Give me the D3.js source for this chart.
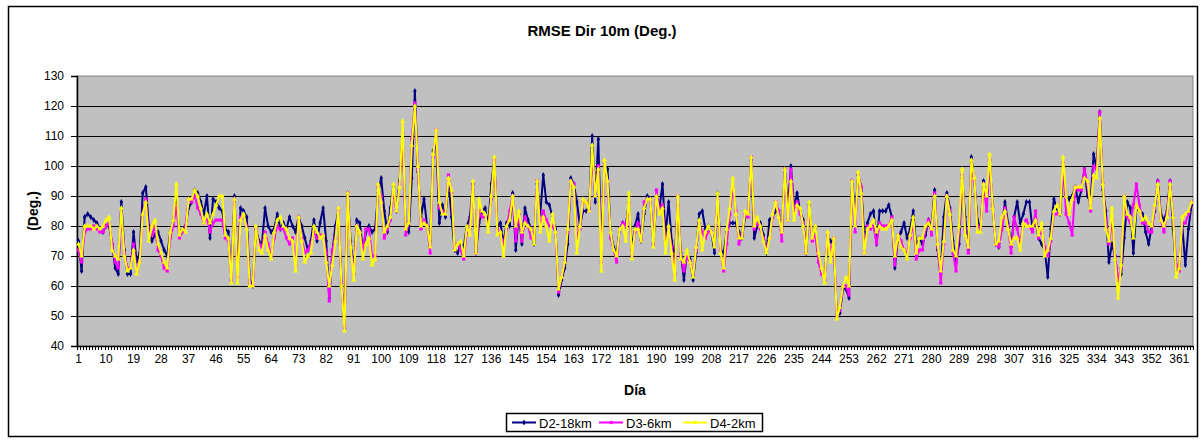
<!DOCTYPE html>
<html>
<head>
<meta charset="utf-8">
<script src="https://cdn.jsdelivr.net/npm/d3@7/dist/d3.min.js"></script>
<style>
body { margin: 0; background: #fff; }
text { font-family: Arial, "Liberation Sans", sans-serif; }
</style>
</head>
<body>
<div id="chart"></div>
<script>
// RMSE of 10m wind direction per day, one value per day (1..365)
var d2Values = [
	75,65,83,84,83,82,81,79,78,80, 80,74,66,64,88,72,64,64,78,68, 71,91,93,80,75,77,78,75,72,70, 78,82,89,78,79,
	80,86,88,92,91,88,84,90,76,89, 88,86,85,79,78,62,90,63,86,85, 83,62,60,79,75,74,86,80,78,79, 84,79,81,79,83,80,
	78,83,80,76,72,75,82,75,81,86, 75,56,71,80,85,61,46,91,75,64, 82,81,72,78,80,78,79,91,96,85, 78,86,93,85,95,111,
	80,78,96,125,98,83,89,80,75,105, 108,81,87,83,95,83,72,71,74,73, 80,83,94,71,81,85,86,80,94,102, 80,81,74,81,80,91,
	72,84,74,86,82,79,74,94,84,97, 88,87,83,79,57,62,66,74,96,94, 88,80,85,85,86,110,88,109,71,100, 99,78,73,71,79,81,80,
	88,72,80,84,75,84,90,89,74,88, 86,94,77,88,75,69,87,71,62,71, 69,62,71,84,85,79,80,78,71,91, 72,71,78,81,81,
	81,78,76,83,84,102,76,80,81,77, 71,82,83,85,85,78,99,86,100,86, 91,85,82,71,87,76,79,70,65,62, 76,75,74,50,51,59,
	59,56,95,84,97,93,76,81,84,85, 74,85,85,85,87,83,66,76,78,81, 76,79,85,73,76,74,77,82,80,92, 72,64,83,91,86,75,
	68,74,96,83,72,103,95,82,79,95, 87,102,86,74,73,80,88,81,73,83, 88,81,84,88,88,79,82,76,74,72, 63,79,89,86,84,98,90,
	89,90,93,88,92,99,90,88,104,99, 118,92,85,68,74,70,62,64,76,88, 86,71,86,85,84,78,74,80,85,95, 84,82,85,95,79,65,66,80,67,79, 87
];
var d3Values = [
	72,68,78,79,79,80,79,78,78,80, 81,74,68,66,84,71,66,66,74,65, 68,84,89,78,77,80,72,70,66,65, 76,80,87,76,78,
	80,89,88,90,86,84,81,83,78,81, 82,82,82,76,75,62,89,63,83,83, 80,61,60,79,74,73,78,74,70,76, 80,79,79,76,74,76,
	67,83,76,71,72,74,78,76,77,77, 71,55,72,76,85,61,46,91,73,64, 80,78,72,79,79,70,70,93,90,76, 79,82,92,85,94,111,
	77,81,109,121,99,79,82,80,71,103, 112,86,85,84,97,91,73,74,72,69, 78,79,94,71,85,83,83,80,89,102, 79,77,74,79,85,90,
	75,84,75,83,80,76,76,95,80,85, 82,80,80,78,58,63,68,78,95,94, 76,79,88,88,85,103,90,100,68,101, 95,76,72,68,79,81,80,
	87,70,78,81,75,88,89,89,74,92, 85,87,74,79,73,64,90,70,65,70, 68,64,72,81,78,76,78,78,74,89, 72,65,74,84,93,
	85,74,77,84,83,103,79,81,79,76, 72,76,83,88,85,75,99,82,99,85, 88,84,81,71,86,75,77,68,64,62, 77,71,76,50,52,60,
	60,57,95,78,97,93,71,80,79,80, 74,81,80,80,80,83,67,77,75,72, 71,76,81,69,72,72,79,82,77,91, 73,61,74,90,85,71,
	65,78,97,79,71,100,95,80,79,94, 85,102,86,74,73,79,86,80,71,83, 79,74,81,82,80,78,85,76,79,73, 70,75,84,84,85,101,84,
	81,77,93,92,92,99,94,85,100,99, 118,94,82,74,82,70,62,66,90,83, 81,87,94,87,81,81,78,78,86,95, 82,78,84,95,83,67,65,81,81,84, 88
];
var d4Values = [
	74,70,80,80,80,79,80,79,80,82, 83,72,70,69,86,70,65,66,72,64, 68,84,88,75,80,82,74,71,68,66, 78,82,94,77,79,
	78,89,89,92,90,86,81,84,81,84, 87,90,90,77,76,61,89,61,82,84, 79,60,60,80,72,71,77,72,69,78, 82,83,80,79,76,75,
	65,83,75,68,70,71,80,78,76,77, 68,60,67,75,86,60,45,91,73,62, 80,78,69,74,76,67,69,94,88,78, 80,83,94,85,93,115,
	79,81,107,120,100,80,81,80,73,104, 112,88,84,84,96,92,72,74,75,70, 80,77,95,71,89,85,84,78,90,103, 77,78,70,80,82,90,
	80,85,78,81,80,79,74,95,78,83, 80,75,84,78,59,63,68,79,95,93, 71,80,89,88,85,107,90,99,65,102, 95,78,72,70,79,80,75,
	91,69,79,79,75,86,89,89,73,90, 84,86,71,80,71,62,90,69,68,72, 68,63,73,82,72,78,80,78,73,91, 71,66,79,86,96,
	84,76,76,85,84,103,80,83,80,75, 71,76,84,88,83,78,99,82,95,82, 87,86,80,71,88,76,80,71,66,61, 78,68,76,49,53,60,
	63,60,95,80,98,91,71,79,80,82, 78,80,79,79,80,82,70,77,73,72, 69,77,83,71,76,76,80,81,79,90, 74,65,75,90,84,72,
	70,80,99,77,73,102,96,78,78,94, 90,104,86,74,75,83,85,79,74,76, 76,72,81,80,80,80,82,77,81,70, 72,76,85,87,84,103,90,
	84,89,93,93,93,96,95,86,97,96, 116,94,79,75,86,69,56,67,90,84, 83,76,87,85,82,83,81,80,87,94, 82,80,83,94,83,63,66,83,84,85, 88
];

var yTicks = [40, 50, 60, 70, 80, 90, 100, 110, 120, 130];
var labelEvery = 9;
var seriesNames = ["D2-18km", "D3-6km", "D4-2km"];
var seriesColors = ["#000080", "#ff00ff", "#ffff00"];
var seriesSymbols = [d3.symbolDiamond, d3.symbolSquare, d3.symbolTriangle];

var days = d3.range(1, d2Values.length + 1);
var series = [d2Values, d3Values, d4Values];

var W = 1204, H = 441;
var margin = { top: 76, right: 11, bottom: 95, left: 77 };
var width = W - margin.left - margin.right,
	height = H - margin.top - margin.bottom;
var fontStack = "Arial, 'Liberation Sans', sans-serif";

var svg = d3.select("#chart").append("svg")
	.attr("width", W)
	.attr("height", H);

svg.append("rect")
	.attr("width", W).attr("height", H)
	.attr("fill", "#fff");

// outer chart frame
svg.append("rect")
	.attr("x", 8.5).attr("y", 6.5)
	.attr("width", 1189).attr("height", 430)
	.attr("fill", "none")
	.attr("stroke", "#000")
	.attr("stroke-width", 1.5);

svg.append("text")
	.attr("x", W / 2)
	.attr("y", 36)
	.attr("text-anchor", "middle")
	.attr("font-size", "15px")
	.attr("font-weight", "bold")
	.text("RMSE Dir 10m (Deg.)");

var g = svg.append("g")
	.attr("transform", "translate(" + margin.left + "," + margin.top + ")");

var x = d3.scaleBand()
	.domain(days)
	.range([0, width]);

var y = d3.scaleLinear()
	.domain([40, 130])
	.range([height, 0]);

// plot background
g.append("rect")
	.attr("width", width).attr("height", height)
	.attr("fill", "#c0c0c0")
	.attr("stroke", "#808080")
	.attr("stroke-width", 1);

// gridlines
g.selectAll(".grid")
	.data(yTicks.filter(function(t) { return t > 40 && t < 130; }))
	.enter().append("line")
	.attr("class", "grid")
	.attr("x1", 0).attr("x2", width)
	.attr("y1", function(d) { return Math.round(y(d)) + 0.5; })
	.attr("y2", function(d) { return Math.round(y(d)) + 0.5; })
	.attr("stroke", "#000")
	.attr("stroke-width", 1);

// y axis
var yAxis = d3.axisLeft(y)
	.tickValues(yTicks)
	.tickSize(6)
	.tickPadding(7);

g.append("g")
	.attr("class", "y-axis axis")
	.call(yAxis)
	.call(function(sel) {
		sel.select(".domain").attr("stroke", "#000").attr("stroke-width", 1.5);
		sel.selectAll("text").attr("font-size", "12px").attr("fill", "#000")
			.attr("font-family", fontStack);
	});

// x axis: a tick for every day, a label every 9th day
var xAxis = d3.axisBottom(x)
	.tickValues(days.filter(function(d) { return (d - 1) % labelEvery === 0; }))
	.tickSize(0)
	.tickPadding(8);

var xg = g.append("g")
	.attr("class", "x-axis axis")
	.attr("transform", "translate(0," + height + ")")
	.call(xAxis);
xg.select(".domain").remove();
xg.selectAll("text").attr("font-size", "12px").attr("fill", "#000")
	.attr("font-family", fontStack);

xg.selectAll(".minor")
	.data(days.concat([days.length + 1]))
	.enter().append("line")
	.attr("class", "minor")
	.attr("x1", function(d, i) { return Math.round(i * x.step()) + 0.5; })
	.attr("x2", function(d, i) { return Math.round(i * x.step()) + 0.5; })
	.attr("y1", 0).attr("y2", 4)
	.attr("stroke", "#000")
	.attr("stroke-width", 1);

xg.append("line")
	.attr("x1", 0).attr("x2", width)
	.attr("y1", 0.5).attr("y2", 0.5)
	.attr("stroke", "#000")
	.attr("stroke-width", 1.5);

// axis titles
svg.append("text")
	.attr("transform", "translate(38," + (margin.top + height / 2) + ") rotate(-90)")
	.attr("text-anchor", "middle")
	.attr("font-size", "14px")
	.attr("font-weight", "bold")
	.text("(Deg.)");

svg.append("text")
	.attr("x", margin.left + width / 2)
	.attr("y", 395)
	.attr("text-anchor", "middle")
	.attr("font-size", "14px")
	.attr("font-weight", "bold")
	.text("Día");

// series lines with markers
var line = d3.line()
	.x(function(d, i) { return x(days[i]) + x.bandwidth() / 2; })
	.y(function(d) { return y(d); });

series.forEach(function(vals, s) {
	var sg = g.append("g").attr("class", "series s" + s);
	sg.append("path")
		.datum(vals)
		.attr("fill", "none")
		.attr("stroke", seriesColors[s])
		.attr("stroke-width", 2)
		.attr("stroke-linejoin", "round")
		.attr("d", line);
	sg.selectAll("path.mark")
		.data(vals)
		.enter().append("path")
		.attr("class", "mark")
		.attr("transform", function(d, i) {
			return "translate(" + (x(days[i]) + x.bandwidth() / 2) + "," + y(d) + ")";
		})
		.attr("d", d3.symbol().type(seriesSymbols[s]).size(10))
		.attr("fill", seriesColors[s]);
});

// legend
var legend = svg.append("g").attr("class", "legend");
legend.append("rect")
	.attr("x", 506.5).attr("y", 413.5)
	.attr("width", 256).attr("height", 18)
	.attr("fill", "#fff")
	.attr("stroke", "#000")
	.attr("stroke-width", 1.5);

var legendX = [512, 599, 683];
seriesNames.forEach(function(name, s) {
	legend.append("line")
		.attr("x1", legendX[s]).attr("x2", legendX[s] + 24)
		.attr("y1", 422.5).attr("y2", 422.5)
		.attr("stroke", seriesColors[s])
		.attr("stroke-width", 2);
	legend.append("path")
		.attr("transform", "translate(" + (legendX[s] + 12) + ",422.5)")
		.attr("d", d3.symbol().type(seriesSymbols[s]).size(10))
		.attr("fill", seriesColors[s]);
	legend.append("text")
		.attr("x", legendX[s] + 27)
		.attr("y", 427.5)
		.attr("font-size", "13px")
		.text(name);
});
</script>
</body>
</html>
